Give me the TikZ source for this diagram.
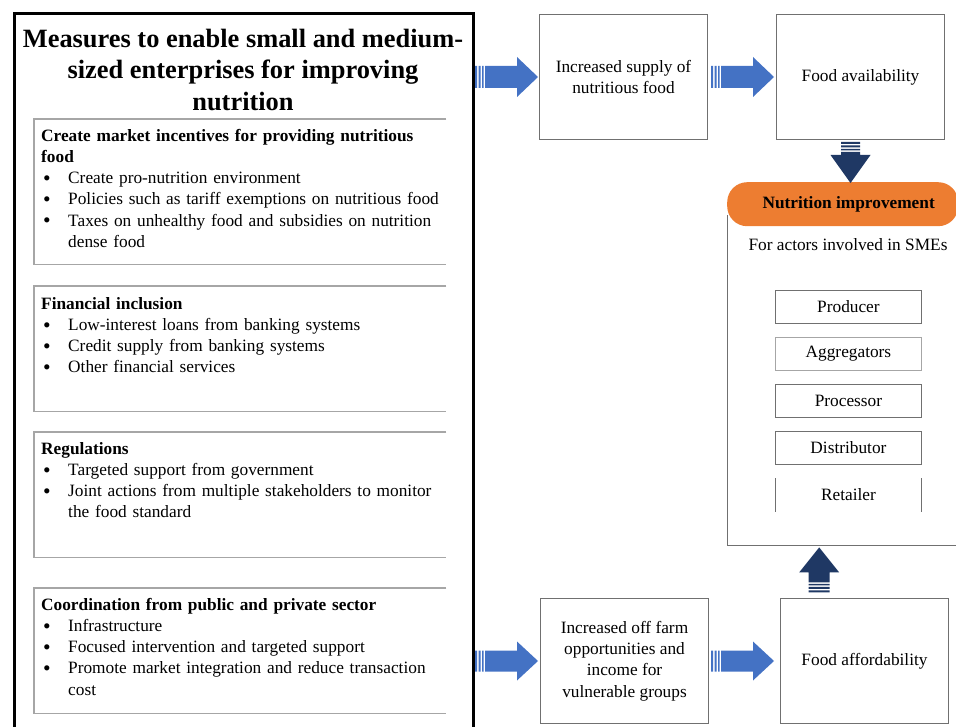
\documentclass[tikz,border=0pt]{standalone}
\usepackage{fontspec}
\setmainfont{Liberation Serif}
\usetikzlibrary{calc}
\definecolor{arrowblue}{HTML}{4472C4}
\definecolor{navyarrow}{HTML}{1F3864}
\definecolor{pillorange}{HTML}{ED7D31}
\definecolor{panelgray}{HTML}{A6A6A6}
\definecolor{framegray}{HTML}{707070}
\newcommand\blockarrow[7]{% at, rotate, color, length, shaft, head, headlen
  \begin{scope}[shift={(#1)},rotate=#2]
    \fill[#3] (0,-#5/2) rectangle (2,#5/2)
      (3.5,-#5/2) rectangle (5.5,#5/2)
      (7,-#5/2) rectangle (8.5,#5/2)
      (10,-#5/2) -- ({#4-#7},-#5/2) -- ({#4-#7},-#6/2) -- (#4,0) -- ({#4-#7},#6/2) -- ({#4-#7},#5/2) -- (10,#5/2) -- cycle;
  \end{scope}}
\newcommand\bitem[1]{\makebox[27pt][l]{\hspace{2pt}\raisebox{-1.6pt}{\scalebox{1.25}{\textbullet}}}#1}
\newcommand\bcont[1]{\hspace*{27pt}#1}
\begin{document}
\begin{tikzpicture}[x=1pt,y=-1pt,
  font=\fontsize{17.3}{21.2}\selectfont,
  panel/.style={draw=none, anchor=north west, minimum width=412pt, inner sep=0pt},
  panelline/.style={draw=panelgray, line width=1.2pt},
  paneltext/.style={anchor=north west, inner sep=0pt, text width=405pt, align=left},
  rbox/.style={draw=framegray, line width=1pt, anchor=north west, minimum width=168pt, minimum height=125pt, inner sep=0pt, align=center},
  actor/.style={draw=framegray, line width=0.9pt, anchor=north west, minimum width=146pt, minimum height=33pt, inner sep=0pt}]
\useasboundingbox (0,0) rectangle (956,727);

% outer frame
\node[draw=none, anchor=north west, minimum width=459pt, minimum height=713pt, inner sep=0pt] (outer) at (14,14) {};
\draw[line width=3pt, black] (outer.south west) -- (outer.north west) -- (outer.north east) -- (outer.south east);
\node[font=\fontsize{26.4}{31.8}\selectfont\bfseries, align=center, inner sep=0pt] (title) at (243,70)
  {Measures to enable small and medium-\\sized enterprises for improving\\nutrition};

% panels
\node[panel, minimum height=145pt] (p1) at (34,119) {};
\node[panel, minimum height=125pt] (p2) at (34,286) {};
\node[panel, minimum height=125pt] (p3) at (34,432) {};
\node[panel, minimum height=125pt] (p4) at (34,588) {};
\foreach \p in {p1,p2,p3,p4}
  \draw[panelline] (\p.north east) -- (\p.north west) -- (\p.south west) -- (\p.south east);

\node[paneltext] (t1) at ($(p1.north west)+(7,10)$) {%
  \textbf{Create market incentives for providing nutritious}\\
  \textbf{food}\\
  \bitem{Create pro-nutrition environment}\\
  \bitem{Policies such as tariff exemptions on nutritious food}\\
  \bitem{Taxes on unhealthy food and subsidies on nutrition}\\
  \bcont{dense food}};
\node[paneltext] (t2) at ($(p2.north west)+(7,11)$) {%
  \textbf{Financial inclusion}\\
  \bitem{Low-interest loans from banking systems}\\
  \bitem{Credit supply from banking systems}\\
  \bitem{Other financial services}};
\node[paneltext] (t3) at ($(p3.north west)+(7,10)$) {%
  \textbf{Regulations}\\
  \bitem{Targeted support from government}\\
  \bitem{Joint actions from multiple stakeholders to monitor}\\
  \bcont{the food standard}};
\node[paneltext] (t4) at ($(p4.north west)+(7,10)$) {%
  \textbf{Coordination from public and private sector}\\
  \bitem{Infrastructure}\\
  \bitem{Focused intervention and targeted support}\\
  \bitem{Promote market integration and reduce transaction}\\
  \bcont{cost}};

% right column
\node[rbox] (sup) at (539,14) {Increased supply of\\nutritious food};
\node[rbox] (avail) at (776,14) {Food availability};
\node[rbox] (offfarm) at (540,598) {Increased off farm\\opportunities and\\income for\\vulnerable groups};
\node[rbox] (afford) at (780,598) {Food affordability};

\node[draw=none, anchor=north west, minimum width=240pt, minimum height=330pt, inner sep=0pt] (actors) at (727,215) {};
\draw[framegray, line width=1pt] (actors.north west) -- (actors.south west) -- (actors.south east);
\node[fill=pillorange, rounded corners=20pt, anchor=north west, minimum width=231pt, minimum height=44pt, inner sep=0pt] (nutr) at (727,182) {};
\node[font=\fontsize{17.3}{21.2}\selectfont\bfseries, inner sep=0pt] (nutrtext) at ($(nutr.center)+(6,0)$) {Nutrition improvement};
\node[inner sep=0pt] (for) at (848,245) {For actors involved in SMEs};

\node[actor] (producer) at (775,290) {Producer};
\node[actor, draw=panelgray] (aggr) at (775,337) {Aggregators};
\node[actor] (proc) at (775,384) {Processor};
\node[actor] (distr) at (775,431) {Distributor};
\node[actor, draw=none] (retail) at (775,478) {Retailer};
\draw[framegray, line width=0.9pt] (retail.north west) -- (retail.south west) (retail.north east) -- (retail.south east);

% arrows
\coordinate (a1) at ($(sup.west)+(-64,0)$);
\coordinate (a2) at ($(sup.east)+(3,0)$);
\coordinate (a3) at ($(avail.south)+(-10,2)$);
\coordinate (a4) at ($(actors.south)+(-28,47)$);
\coordinate (a5) at ($(offfarm.west)+(-65,0)$);
\coordinate (a6) at ($(offfarm.east)+(2,0)$);
\blockarrow{a1}{0}{arrowblue}{63}{22}{40}{21}
\blockarrow{a2}{0}{arrowblue}{63}{22}{40}{21}
\blockarrow{a5}{0}{arrowblue}{63}{21}{39}{21}
\blockarrow{a6}{0}{arrowblue}{63}{21}{39}{21}
\blockarrow{a3}{-90}{navyarrow}{41}{19}{40}{28}
\blockarrow{a4}{90}{navyarrow}{45}{21}{40}{25}
\end{tikzpicture}
\end{document}
